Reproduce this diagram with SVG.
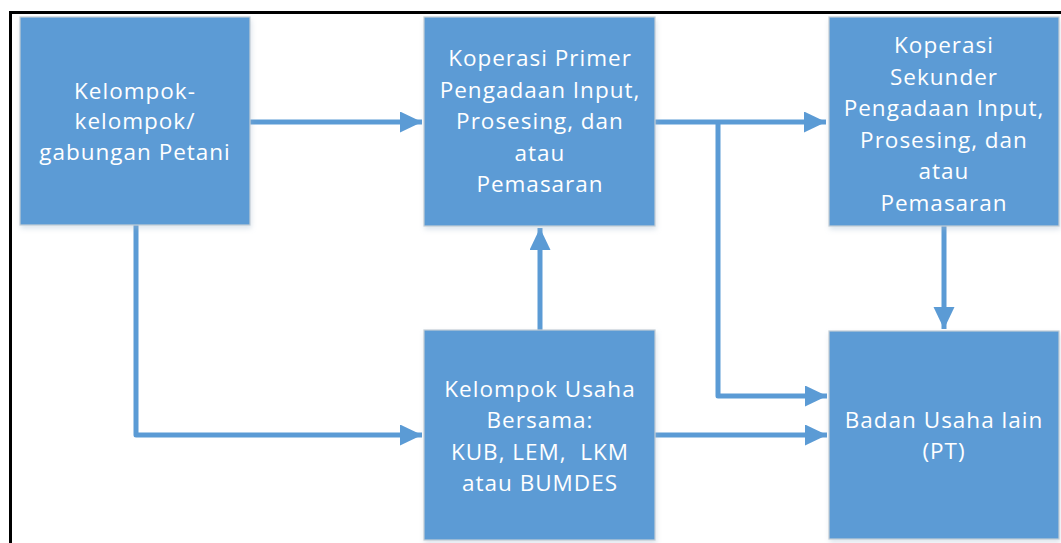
<svg xmlns="http://www.w3.org/2000/svg" width="1061" height="543" viewBox="0 0 1061 543">
<style>
.box{fill:#5B9BD5;stroke:#c3cdd6;stroke-width:1.2;filter:url(#sh)}
.t{font-family:"Open Sans","Liberation Sans",sans-serif;font-size:22.5px;fill:#ffffff;text-anchor:middle;letter-spacing:1px}
.c{fill:none;stroke:#5B9BD5;stroke-width:5;stroke-linejoin:round}
</style>
<defs>
<filter id="sh" x="-5%" y="-5%" width="112%" height="115%">
<feGaussianBlur in="SourceAlpha" stdDeviation="2.5"/>
<feOffset dx="1" dy="3" result="b"/>
<feFlood flood-color="#9fb6cc" flood-opacity="0.35"/>
<feComposite in2="b" operator="in"/>
<feMerge><feMergeNode/><feMergeNode in="SourceGraphic"/></feMerge>
</filter>
<marker id="ah" markerUnits="userSpaceOnUse" markerWidth="24" markerHeight="22" refX="22" refY="10.5" orient="auto">
<path d="M0,0 L22,10.5 L0,21 Z" fill="#5B9BD5"/>
</marker>
</defs>
<rect width="1061" height="543" fill="#ffffff"/>
<g id="frame">
<path d="M10.5,543 V12.5 H1061" fill="none" stroke="#000000" stroke-width="3"/>
</g>
<g id="connectors">
<path class="c" d="M250,122 H422" marker-end="url(#ah)"/>
<path class="c" d="M655,122 H826" marker-end="url(#ah)"/>
<path class="c" d="M718,122 V396 H827" marker-end="url(#ah)"/>
<path class="c" d="M136,225 V435 H422" marker-end="url(#ah)"/>
<path class="c" d="M540,330 V228" marker-end="url(#ah)"/>
<path class="c" d="M944,226 V329" marker-end="url(#ah)"/>
<path class="c" d="M655,435 H827" marker-end="url(#ah)"/>
</g>
<g id="n1">
<rect class="box" x="20" y="17" width="230" height="208"/>
<text class="t" x="135" y="99">Kelompok-</text>
<text class="t" x="135" y="129">kelompok/</text>
<text class="t" x="135" y="160">gabungan Petani</text>
</g>
<g id="n2">
<rect class="box" x="424" y="17" width="231" height="209"/>
<text class="t" x="540" y="66">Koperasi Primer</text>
<text class="t" x="540" y="97.5">Pengadaan Input,</text>
<text class="t" x="540" y="129">Prosesing, dan</text>
<text class="t" x="540" y="161">atau</text>
<text class="t" x="540" y="192">Pemasaran</text>
</g>
<g id="n3">
<rect class="box" x="829" y="17" width="230" height="209"/>
<text class="t" x="944" y="53">Koperasi</text>
<text class="t" x="944" y="84.5">Sekunder</text>
<text class="t" x="944" y="116">Pengadaan Input,</text>
<text class="t" x="944" y="147.5">Prosesing, dan</text>
<text class="t" x="944" y="179">atau</text>
<text class="t" x="944" y="210.5">Pemasaran</text>
</g>
<g id="n4">
<rect class="box" x="424" y="330" width="231" height="210"/>
<text class="t" x="540" y="397">Kelompok Usaha</text>
<text class="t" x="540" y="428">Bersama:</text>
<text class="t" x="540" y="459.5" xml:space="preserve">KUB, LEM,  LKM</text>
<text class="t" x="540" y="491">atau BUMDES</text>
</g>
<g id="n5">
<rect class="box" x="829" y="331" width="230" height="208"/>
<text class="t" x="944" y="428">Badan Usaha lain</text>
<text class="t" x="944" y="459">(PT)</text>
</g>
</svg>
